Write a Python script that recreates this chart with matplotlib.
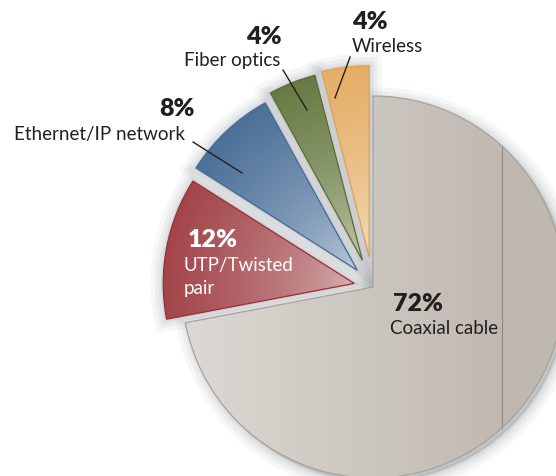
import matplotlib.pyplot as plt
import numpy as np
from matplotlib.colors import to_rgb
from matplotlib.patches import Wedge

# data
labels = ["Coaxial cable", "UTP/Twisted", "Ethernet/IP network", "Fiber optics", "Wireless"]
shares = [72, 12, 8, 4, 4]
explode = [0, 0.10, 0.12, 0.15, 0.16]

# styles (outer colour, inner colour, edge colour)
outer_cols = ["#bfb8b1", "#a2454a", "#4c7098", "#687a44", "#e5ae66"]
inner_cols = ["#dcd8d3", "#dcbcbc", "#cbd5e2", "#ccd3bb", "#f5e3c9"]
edge_cols = ["#a9a29b", "#9a2f35", "#3f6a98", "#5a6c35", "#e2a24f"]

plt.rcParams['font.family'] = ['Lato', 'DejaVu Sans']
TXT = "#231f20"
BIG = 18
SMALL = 13.5

fig = plt.figure(figsize=(5.56, 4.76), dpi=100)
ax = fig.add_axes([0, 0, 1, 1])

R = 191.0
cx, cy = 373.0, 287.0
xlim = (-cx / R, (556 - cx) / R)
ylim = (-(476 - cy) / R, cy / R)

wedges, _ = ax.pie(shares, explode=explode, startangle=90, counterclock=False,
                   radius=1, wedgeprops=dict(facecolor="none", linewidth=0.9, zorder=4))

# soft shadows
for i, w in enumerate(wedges):
    c = w.center
    off = (0.02, -0.02) if i == 0 else (0.0, 0.0)
    for lw, a in [(18, 0.06), (12, 0.07), (7, 0.08), (3, 0.10)]:
        ax.add_patch(Wedge((c[0] + off[0], c[1] + off[1]), w.r, w.theta1, w.theta2,
                           facecolor="#73787f", edgecolor="#73787f", linewidth=lw,
                           alpha=a, zorder=1))

# gradient fills clipped to each wedge
xs = np.linspace(xlim[0], xlim[1], 600)
ys = np.linspace(ylim[0], ylim[1], 520)
X, Y = np.meshgrid(xs, ys)
for i, w in enumerate(wedges):
    w.set_edgecolor(edge_cols[i])
    o = np.array(to_rgb(outer_cols[i]))
    n = np.array(to_rgb(inner_cols[i]))
    if i == 0:
        t = np.clip((X + 1.0) / 1.75, 0, 1)
        t = np.where(X > 0.675, np.clip(t + 0.08, 0, 1), t)
    else:
        d = np.hypot(X - w.center[0], Y - w.center[1])
        t = np.clip(d / w.r, 0, 1) ** 0.6
    img = n[None, None, :] * (1 - t[..., None]) + o[None, None, :] * t[..., None]
    im = ax.imshow(img, extent=(xlim[0], xlim[1], ylim[0], ylim[1]), origin="lower",
                   interpolation="bilinear", zorder=2)
    im.set_clip_path(w)

# thin shading boundary inside the big slice
xl = 0.675
yl = np.sqrt(1 - xl ** 2)
ax.plot([xl, xl], [yl, -yl], color="#8f8882", linewidth=0.8, zorder=3)

# labels
ax.text(-0.11, 1.387, "4%", fontsize=BIG, fontweight="heavy", color=TXT, ha="left", va="center")
ax.text(-0.11, 1.257, labels[4], fontsize=SMALL, color=TXT, ha="left", va="center")
ax.text(-0.476, 1.309, "4%", fontsize=BIG, fontweight="heavy", color=TXT, ha="right", va="center")
ax.text(-0.487, 1.188, labels[3], fontsize=SMALL, color=TXT, ha="right", va="center")
ax.text(-0.932, 0.932, "8%", fontsize=BIG, fontweight="heavy", color=TXT, ha="right", va="center")
ax.text(-0.984, 0.801, labels[2], fontsize=SMALL, color=TXT, ha="right", va="center")
ax.text(-0.969, 0.246, "12%", fontsize=BIG, fontweight="heavy", color="white", ha="left", va="center", zorder=6)
ax.text(-0.99, 0.110, labels[1], fontsize=SMALL, color="white", ha="left", va="center", zorder=6)
ax.text(-0.99, -0.010, "pair", fontsize=SMALL, color="white", ha="left", va="center", zorder=6)
ax.text(0.105, -0.089, "72%", fontsize=BIG, fontweight="heavy", color=TXT, ha="left", va="center", zorder=6)
ax.text(0.089, -0.215, labels[0], fontsize=SMALL, color=TXT, ha="left", va="center", zorder=6)

# leader lines
ax.plot([-0.120, -0.199], [1.204, 0.990], color=TXT, linewidth=1, zorder=6)
ax.plot([-0.471, -0.346], [1.136, 0.927], color=TXT, linewidth=1, zorder=6)
ax.plot([-0.942, -0.686], [0.759, 0.597], color=TXT, linewidth=1, zorder=6)

ax.set_xlim(*xlim)
ax.set_ylim(*ylim)
ax.set_aspect("equal")
ax.axis("off")
fig.savefig("out.png", dpi=100)
